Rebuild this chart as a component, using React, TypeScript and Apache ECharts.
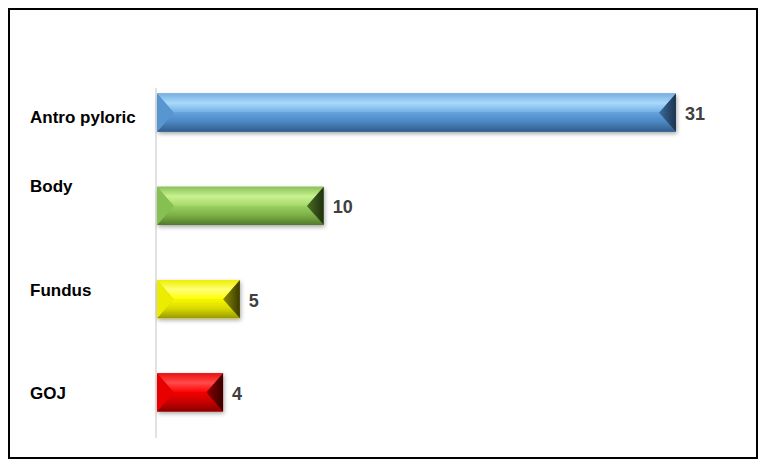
import { useEffect, useRef } from 'react'
import * as echarts from 'echarts'

const categories = ['Antro pyloric', 'Body', 'Fundus', 'GOJ']
const counts = [31, 10, 5, 4]
const xMax = 35

// bevel colours per bar: top face stops, bottom face stops, left side, right side stops
const bevels = [
  { top: ['#78b0e4', '#a9d9fa', '#6eaee6'], bottom: ['#62a2de', '#4a86c0', '#335d8a'], left: '#5896d2', right: ['#3c6b9a', '#1c3350'] },
  { top: ['#8cc258', '#c8f290', '#a4d86a'], bottom: ['#9ad062', '#7cb046', '#52792c'], left: '#86c052', right: ['#4a6e26', '#1e300f'] },
  { top: ['#eeee00', '#ffff78', '#ffff00'], bottom: ['#f8f800', '#d8d800', '#9a9a00'], left: '#ecec00', right: ['#8c8c00', '#3a3a00'] },
  { top: ['#ee1010', '#ff4a4a', '#ff0000'], bottom: ['#f40000', '#c80000', '#8a0000'], left: '#e80000', right: ['#8e0000', '#380000'] },
]

const labelShift: Record<string, number[]> = {
  'Antro pyloric': [9, 0, 0, 0],
  Body: [0, 0, 38, 0],
  Fundus: [0, 0, 18, 0],
  GOJ: [3, 0, 0, 0],
}

const vgrad = (stops: string[]) =>
  new echarts.graphic.LinearGradient(0, 0, 0, 1, stops.map((c, i) => ({ offset: i / (stops.length - 1), color: c })))

export default function App() {
  const chartRef = useRef<HTMLDivElement>(null)

  useEffect(() => {
    if (!chartRef.current) return
    const chart = echarts.init(chartRef.current, null, { renderer: 'svg' })

    const rich: Record<string, any> = {}
    categories.forEach((c, i) => {
      rich['c' + i] = {
        fontSize: 17,
        fontWeight: 'bold',
        fontFamily: '"Liberation Sans", Arial, sans-serif',
        color: '#000',
        padding: labelShift[c],
      }
    })

    const option = {
      animation: false,
      grid: { left: 146, right: 13, top: 56, bottom: 18 },
      xAxis: {
        type: 'value',
        min: 0,
        max: xMax,
        show: false,
      },
      yAxis: {
        type: 'category',
        data: categories,
        inverse: true,
        axisLine: { show: false },
        axisTick: { show: false },
        splitLine: { show: false },
        axisLabel: {
          margin: 126,
          align: 'left',
          formatter: (v: string) => `{c${categories.indexOf(v)}|${v}}`,
          rich,
        },
      },
      graphic: [
        {
          type: 'line',
          shape: { x1: 146, y1: 78, x2: 146, y2: 428 },
          style: { stroke: '#d9d9d9', lineWidth: 1.5 },
          z: 1,
        },
      ],
      series: [
        {
          type: 'custom',
          data: counts.map((v, i) => [v, i]),
          encode: { x: 0, y: 1 },
          z: 3,
          renderItem: (params: any, api: any) => {
            const v = api.value(0)
            const i = api.value(1)
            const start = api.coord([0, i])
            const end = api.coord([v, i])
            const h = api.size([0, 1])[1] * 0.408
            const x0 = start[0] + 1
            const x1 = end[0]
            const yc = start[1]
            const y0 = yc - h / 2
            const y1 = yc + h / 2
            const d = Math.min(h * 0.44, (x1 - x0) / 2)
            const c = bevels[params.dataIndex]
            return {
              type: 'group',
              children: [
                {
                  type: 'rect',
                  shape: { x: x0, y: y0, width: x1 - x0, height: h },
                  style: {
                    fill: c.bottom[1],
                    shadowBlur: 4,
                    shadowColor: 'rgba(0,0,0,0.35)',
                    shadowOffsetX: 1,
                    shadowOffsetY: 2,
                  },
                },
                {
                  type: 'polygon',
                  shape: { points: [[x0, y0], [x1, y0], [x1 - d, yc], [x0 + d, yc]] },
                  style: { fill: vgrad(c.top) },
                },
                {
                  type: 'polygon',
                  shape: { points: [[x0 + d, yc], [x1 - d, yc], [x1, y1], [x0, y1]] },
                  style: { fill: vgrad(c.bottom) },
                },
                {
                  type: 'polygon',
                  shape: { points: [[x0, y0], [x0 + d, yc], [x0, y1]] },
                  style: { fill: c.left },
                },
                {
                  type: 'polygon',
                  shape: { points: [[x1, y0], [x1 - d, yc], [x1, y1]] },
                  style: {
                    fill: new echarts.graphic.LinearGradient(0, 0, 1, 0, [
                      { offset: 0, color: c.right[0] },
                      { offset: 1, color: c.right[1] },
                    ]),
                  },
                },
                {
                  type: 'text',
                  x: x1 + 9,
                  y: yc + 1.5,
                  style: {
                    text: String(v),
                    fill: '#404040',
                    fontSize: 18,
                    fontWeight: 'bold',
                    fontFamily: '"Liberation Sans", Arial, sans-serif',
                    align: 'left',
                    verticalAlign: 'middle',
                  },
                },
              ],
            }
          },
        },
      ],
    }

    chart.setOption(option)
    return () => {
      chart.dispose()
    }
  }, [])

  return (
    <div style={{ width: 750, height: 451, border: '2px solid #000', boxSizing: 'border-box', background: '#fff' }}>
      <div ref={chartRef} style={{ width: 746, height: 447 }} />
    </div>
  )
}
